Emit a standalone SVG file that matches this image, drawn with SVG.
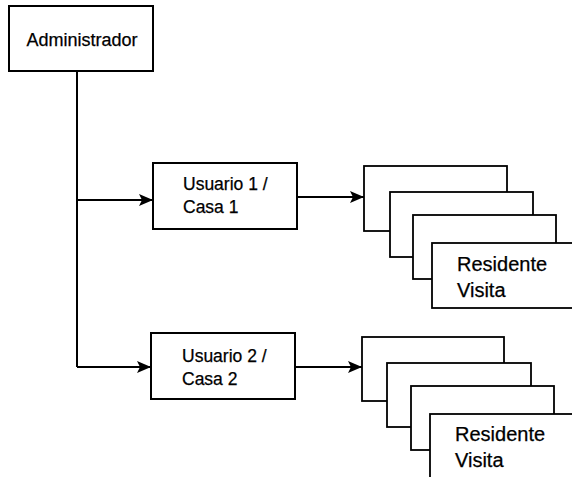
<svg xmlns="http://www.w3.org/2000/svg" width="572" height="477" viewBox="0 0 572 477">
<defs>
<style>
.box{fill:#fff;stroke:#000;stroke-width:2}
.card{fill:#fff;stroke:#000;stroke-width:1.8}
.ln{fill:none;stroke:#000;stroke-width:2}
.t{font-family:"Liberation Sans",Arial,sans-serif;fill:#000;stroke:#000;stroke-width:0.25}
</style>
<marker id="arr" markerWidth="14" markerHeight="12" refX="14" refY="6" orient="auto" markerUnits="userSpaceOnUse">
<path d="M0,0 L14,6 L0,12 L3,6 Z" fill="#000"/>
</marker>
</defs>
<rect width="572" height="477" fill="#fff"/>
<g id="connectors">
<path class="ln" d="M77,71 V367"/>
<path class="ln" d="M77,200 H153" marker-end="url(#arr)"/>
<path class="ln" d="M77,367 H151" marker-end="url(#arr)"/>
<path class="ln" d="M297,197 H364" marker-end="url(#arr)"/>
<path class="ln" d="M295,367 H362" marker-end="url(#arr)"/>
</g>
<g id="administrador">
<rect class="box" x="9" y="6" width="144" height="65"/>
<text class="t" x="82" y="46" font-size="18" text-anchor="middle" textLength="111" lengthAdjust="spacingAndGlyphs">Administrador</text>
</g>
<g id="usuario1">
<rect class="box" x="153" y="163" width="144" height="66"/>
<text class="t" x="183" y="190" font-size="17.5">Usuario 1 /</text>
<text class="t" x="183" y="213" font-size="17.5">Casa 1</text>
</g>
<g id="usuario2">
<rect class="box" x="151" y="333" width="144" height="66"/>
<text class="t" x="182" y="362" font-size="17.5">Usuario 2 /</text>
<text class="t" x="182" y="385" font-size="17.5">Casa 2</text>
</g>
<g id="stack1">
<rect class="card" x="364" y="166" width="143" height="65"/>
<rect class="card" x="390" y="192" width="143" height="65"/>
<rect class="card" x="413" y="215" width="143" height="64"/>
<rect class="card" x="432" y="243" width="150" height="65"/>
<text class="t" x="457" y="271" font-size="20">Residente</text>
<text class="t" x="457" y="297" font-size="20">Visita</text>
</g>
<g id="stack2">
<rect class="card" x="362" y="337" width="142" height="64"/>
<rect class="card" x="387" y="363" width="144" height="64"/>
<rect class="card" x="411" y="386" width="143" height="64"/>
<rect class="card" x="430" y="414" width="150" height="70"/>
<text class="t" x="455" y="441" font-size="20">Residente</text>
<text class="t" x="455" y="467" font-size="20">Visita</text>
</g>
</svg>
